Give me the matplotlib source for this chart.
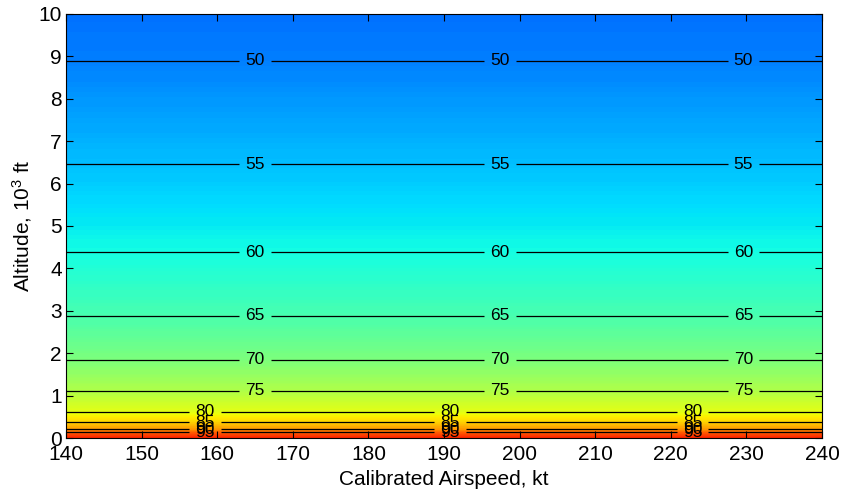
import numpy as np
import matplotlib
matplotlib.use("Agg")
import matplotlib.pyplot as plt

plt.rcParams['font.family'] = ['Liberation Sans', 'DejaVu Sans']
plt.rcParams['mathtext.fontset'] = 'custom'
plt.rcParams['mathtext.rm'] = 'Liberation Sans'
plt.rcParams['mathtext.default'] = 'regular'

# Airspeed samples (kt) and altitude profile (10^3 ft) with noise level (dB)
airspeed = [140, 160, 180, 200, 220, 240]
altitude = [0.0, 0.134, 0.205, 0.377, 0.62, 1.12, 1.85, 2.88, 4.38, 6.46, 8.89, 10.0]
level = [100.0, 95.0, 90.0, 85.0, 80.0, 75.0, 70.0, 65.0, 60.0, 55.0, 50.0, 48.8]

contour_levels = [50, 55, 60, 65, 70, 75, 80, 85, 90, 95]
upper_label_x = [165.0, 197.4, 229.6]
lower_label_x = [158.4, 190.8, 222.9]

X, Y = np.meshgrid(airspeed, altitude)
Z = np.tile(np.array(level)[:, None], (1, len(airspeed)))

fig = plt.figure(figsize=(8.42, 4.95), dpi=100)
ax = fig.add_axes([0.0784, 0.115, 0.8978, 0.857])

ax.contourf(X, Y, Z, levels=np.linspace(30, 110, 321), cmap='jet',
            vmin=30, vmax=110, antialiased=False)
cs = ax.contour(X, Y, Z, levels=contour_levels, colors='black', linewidths=0.9)

alt_of = dict(zip(level, altitude))
positions = []
for lv in contour_levels:
    xs = upper_label_x if lv <= 75 else lower_label_x
    for x in xs:
        positions.append((x, alt_of[float(lv)]))
ax.clabel(cs, fmt='%d', fontsize=12.5, inline=True, inline_spacing=6,
          manual=positions)

ax.set_xlim(140, 240)
ax.set_ylim(0, 10)
ax.set_xticks(range(140, 241, 10))
ax.set_yticks(range(0, 11))
ax.tick_params(direction='in', length=5, width=0.8, top=True, right=True,
               labelsize=15)
ax.tick_params(axis='x', pad=5)
ax.tick_params(axis='y', pad=3)
ax.set_xlabel('Calibrated Airspeed, kt', fontsize=15, labelpad=4)
ax.set_ylabel('Altitude, 10$^3$ ft', fontsize=15, labelpad=3)

fig.savefig('out.png', dpi=100)
